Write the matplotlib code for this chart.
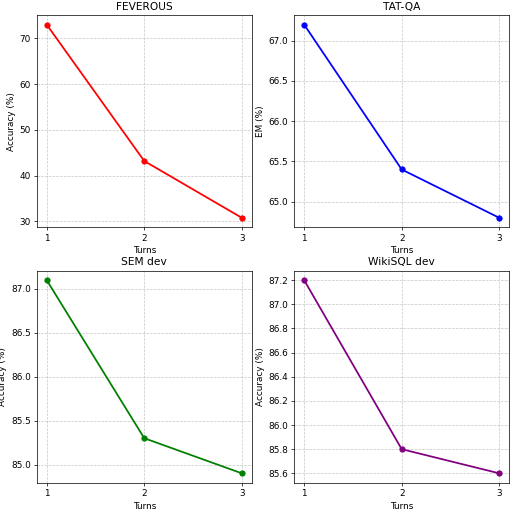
import matplotlib
matplotlib.use('Agg')
from matplotlib import pyplot as plt

turns = [1, 2, 3]

feverous = [73.0, 43.2, 30.8]
tatqa = [67.2, 65.4, 64.8]
sem_dev = [87.1, 85.3, 84.9]
wikisql_dev = [87.2, 85.8, 85.6]

titles = ['FEVEROUS', 'TAT-QA', 'SEM dev', 'WikiSQL dev']
ylabels = ['Accuracy (%)', 'EM (%)', 'Accuracy (%)', 'Accuracy (%)']
colors = ['red', 'blue', 'green', 'purple']
series = [feverous, tatqa, sem_dev, wikisql_dev]

fig, axes = plt.subplots(2, 2, figsize=(8, 8), dpi=63.75)
# the reference looks cropped tight, so place the axes by hand
fig.subplots_adjust(left=0.0725, right=0.998, top=0.9706, bottom=0.053,
                    wspace=0.2, hspace=0.203)

for ax, ys, title, ylab, c in zip(axes.flat, series, titles, ylabels, colors):
    ax.plot(turns, ys, marker='o', color=c, linewidth=2, markersize=6)
    ax.set_title(title, fontsize=12)
    ax.set_xlabel('Turns', fontsize=10)
    ax.set_ylabel(ylab, fontsize=10)
    ax.set_xticks(turns)
    ax.grid(True, linestyle='--', alpha=0.7)

plt.savefig('out.png')
